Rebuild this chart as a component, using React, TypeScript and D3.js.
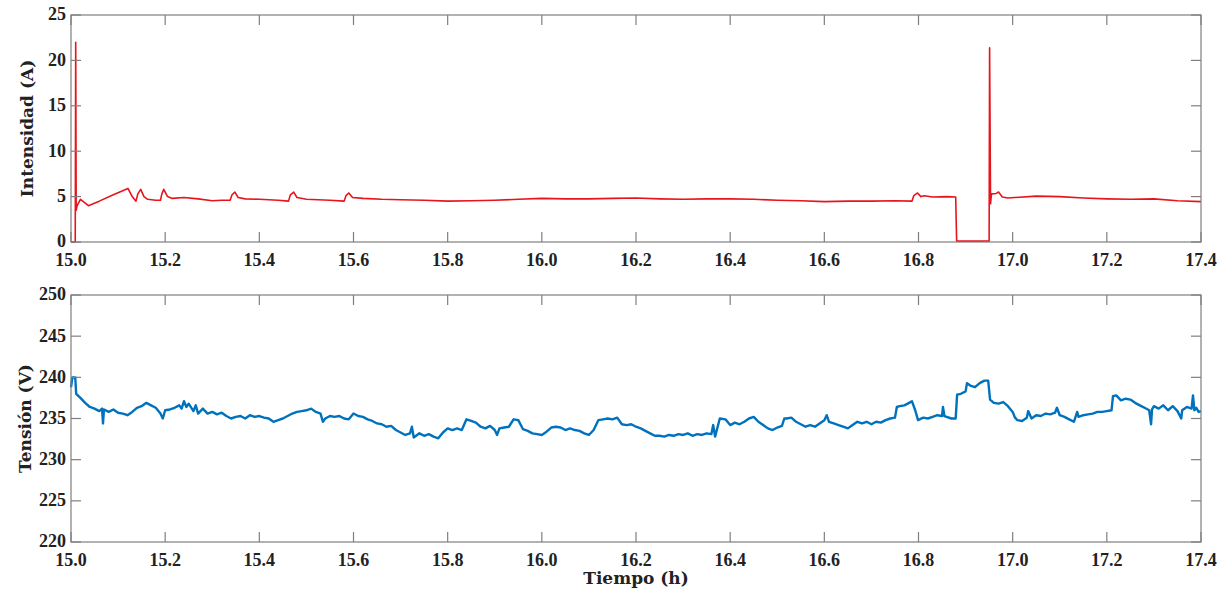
import React from 'react';
import * as d3 from 'd3';

// Intensidad (A) vs tiempo (h)
const currentT = [
  15.000, 15.009, 15.010, 15.011, 15.013, 15.020, 15.025, 15.037, 15.060, 15.090,
  15.121, 15.130, 15.138, 15.142, 15.148, 15.155, 15.163, 15.180, 15.190, 15.193,
  15.197, 15.205, 15.215, 15.240, 15.270, 15.300, 15.320, 15.338, 15.342, 15.348,
  15.355, 15.370, 15.400, 15.440, 15.462, 15.466, 15.473, 15.480, 15.500, 15.550,
  15.580, 15.584, 15.590, 15.598, 15.620, 15.660, 15.700, 15.750, 15.800, 15.850,
  15.900, 15.950, 16.000, 16.050, 16.100, 16.150, 16.200, 16.250, 16.300, 16.350,
  16.400, 16.450, 16.500, 16.550, 16.600, 16.650, 16.700, 16.750, 16.786, 16.790,
  16.798, 16.805, 16.812, 16.830, 16.860, 16.879, 16.881, 16.950, 16.951, 16.953,
  16.955, 16.965, 16.970, 16.978, 16.990, 17.050, 17.100, 17.150, 17.200, 17.250,
  17.300, 17.350, 17.400,
];
const currentA = [
  0, 0, 22.0, 3.5, 4.0, 4.7, 4.5, 4.0, 4.5, 5.2,
  5.9, 5.0, 4.5, 5.3, 5.8, 5.0, 4.7, 4.6, 4.6, 5.3,
  5.8, 5.0, 4.8, 4.9, 4.75, 4.55, 4.6, 4.6, 5.2, 5.5,
  4.9, 4.75, 4.7, 4.6, 4.5, 5.2, 5.5, 4.9, 4.7, 4.6,
  4.5, 5.1, 5.4, 4.9, 4.8, 4.7, 4.65, 4.6, 4.5, 4.55,
  4.6, 4.7, 4.8, 4.75, 4.75, 4.8, 4.85, 4.75, 4.7, 4.75,
  4.75, 4.7, 4.6, 4.55, 4.45, 4.5, 4.5, 4.55, 4.5, 5.1,
  5.4, 5.0, 5.1, 4.95, 5.0, 4.95, 0.1, 0.1, 21.4, 4.2,
  5.3, 5.35, 5.5, 4.95, 4.85, 5.05, 5.0, 4.85, 4.75, 4.7,
  4.75, 4.55, 4.45,
];

// Tensión (V) vs tiempo (h)
const voltageT = [
  15.000, 15.003, 15.009, 15.011, 15.020, 15.030, 15.040, 15.050, 15.060, 15.066,
  15.068, 15.070, 15.080, 15.090, 15.100, 15.110, 15.120, 15.130, 15.140, 15.150,
  15.160, 15.170, 15.180, 15.190, 15.195, 15.200, 15.210, 15.220, 15.230, 15.235,
  15.240, 15.245, 15.250, 15.260, 15.265, 15.270, 15.280, 15.290, 15.300, 15.310,
  15.320, 15.330, 15.340, 15.350, 15.360, 15.370, 15.380, 15.390, 15.400, 15.410,
  15.420, 15.430, 15.440, 15.450, 15.460, 15.470, 15.480, 15.490, 15.500, 15.510,
  15.520, 15.530, 15.535, 15.540, 15.550, 15.560, 15.570, 15.580, 15.590, 15.600,
  15.610, 15.620, 15.630, 15.640, 15.650, 15.660, 15.670, 15.680, 15.690, 15.700,
  15.710, 15.720, 15.724, 15.728, 15.740, 15.750, 15.760, 15.770, 15.780, 15.790,
  15.800, 15.810, 15.820, 15.830, 15.840, 15.850, 15.860, 15.870, 15.880, 15.890,
  15.900, 15.905, 15.910, 15.920, 15.930, 15.940, 15.950, 15.960, 15.970, 15.980,
  15.990, 16.000, 16.010, 16.020, 16.030, 16.040, 16.050, 16.060, 16.070, 16.080,
  16.090, 16.100, 16.110, 16.120, 16.130, 16.140, 16.150, 16.160, 16.170, 16.180,
  16.190, 16.200, 16.210, 16.220, 16.230, 16.240, 16.250, 16.260, 16.270, 16.280,
  16.290, 16.300, 16.310, 16.320, 16.330, 16.340, 16.350, 16.360, 16.364, 16.368,
  16.378, 16.390, 16.400, 16.410, 16.420, 16.430, 16.440, 16.450, 16.460, 16.470,
  16.480, 16.490, 16.500, 16.510, 16.515, 16.520, 16.530, 16.540, 16.550, 16.560,
  16.570, 16.580, 16.590, 16.600, 16.605, 16.610, 16.620, 16.630, 16.640, 16.650,
  16.660, 16.670, 16.680, 16.690, 16.700, 16.710, 16.720, 16.730, 16.740, 16.750,
  16.754, 16.760, 16.770, 16.780, 16.786, 16.793, 16.799, 16.810, 16.820, 16.830,
  16.840, 16.850, 16.852, 16.855, 16.870, 16.879, 16.882, 16.890, 16.900, 16.903,
  16.910, 16.920, 16.930, 16.940, 16.948, 16.952, 16.960, 16.970, 16.980, 16.990,
  17.000, 17.005, 17.010, 17.020, 17.030, 17.033, 17.040, 17.050, 17.060, 17.070,
  17.080, 17.090, 17.094, 17.100, 17.110, 17.120, 17.130, 17.137, 17.140, 17.150,
  17.160, 17.170, 17.180, 17.190, 17.200, 17.210, 17.213, 17.220, 17.230, 17.240,
  17.250, 17.260, 17.270, 17.280, 17.290, 17.294, 17.296, 17.300, 17.310, 17.320,
  17.330, 17.340, 17.350, 17.358, 17.360, 17.370, 17.380, 17.383, 17.386, 17.390,
  17.395, 17.400,
];
const voltageV = [
  238.8, 240.0, 240.0, 238.0, 237.5, 236.9, 236.4, 236.2, 235.9, 236.2,
  234.4, 236.1, 235.8, 236.1, 235.7, 235.6, 235.4, 235.8, 236.3, 236.5,
  236.9, 236.6, 236.3, 235.6, 235.0, 236.0, 236.1, 236.3, 236.6, 236.2,
  237.1, 236.4, 236.8, 235.9, 236.6, 235.6, 236.2, 235.6, 235.8, 235.5,
  235.7, 235.3, 235.0, 235.2, 235.3, 235.0, 235.4, 235.2, 235.3, 235.1,
  235.0, 234.6, 234.8, 235.0, 235.3, 235.6, 235.8, 235.9, 236.0, 236.2,
  235.8, 235.6, 234.6, 235.0, 235.3, 235.2, 235.3, 235.0, 234.9, 235.6,
  235.3, 235.2, 234.9, 234.7, 234.4, 234.3, 234.0, 234.1, 233.6, 233.3,
  233.0, 233.2, 234.0, 232.7, 233.2, 232.9, 233.1, 232.8, 232.6, 233.3,
  233.8, 233.6, 233.8, 233.6, 234.9, 234.7, 234.5, 234.0, 233.8, 234.1,
  233.6, 233.0, 233.8, 233.9, 234.0, 234.9, 234.8, 233.7, 233.5, 233.2,
  233.1, 233.0, 233.4, 233.9, 234.0, 233.9, 233.6, 233.8, 233.6, 233.5,
  233.2, 233.0, 233.6, 234.8, 234.9, 235.0, 234.9, 235.1, 234.3, 234.2,
  234.3, 234.0, 233.8, 233.5, 233.2, 232.9, 232.9, 232.8, 233.0, 232.9,
  233.1, 233.0, 233.2, 232.9, 233.1, 233.0, 233.2, 233.1, 234.2, 232.8,
  235.0, 234.9, 234.2, 234.5, 234.3, 234.6, 235.0, 235.2, 234.6, 234.2,
  233.8, 233.6, 233.9, 234.1, 235.0, 235.0, 235.1, 234.6, 234.3, 234.0,
  234.2, 234.0, 234.4, 234.8, 235.4, 234.6, 234.4, 234.2, 234.0, 233.8,
  234.2, 234.6, 234.4, 234.6, 234.3, 234.6, 234.5, 234.8, 235.0, 235.1,
  236.4, 236.5, 236.6, 236.9, 237.1, 236.0, 234.8, 235.1, 235.0, 235.2,
  235.4, 235.3, 236.4, 235.3, 235.0, 235.0, 237.9, 238.0, 238.3, 239.3,
  239.0, 238.8, 239.3, 239.6, 239.6, 237.3, 236.9, 236.8, 237.0, 236.5,
  235.8, 235.1, 234.8, 234.7, 235.1, 235.9, 235.0, 235.4, 235.3, 235.6,
  235.5, 235.7, 236.3, 235.4, 235.2, 234.9, 234.6, 235.8, 235.2, 235.4,
  235.5, 235.6, 235.8, 235.8, 235.9, 236.0, 237.7, 237.8, 237.2, 237.4,
  237.3, 236.9, 236.6, 236.3, 236.0, 234.3, 236.1, 236.5, 236.2, 236.6,
  236.0, 236.5, 235.9, 235.0, 236.0, 236.4, 236.2, 237.8, 236.0, 236.3,
  235.8, 235.9,
];

const xTicks = d3.range(15.0, 17.41, 0.2);
const currentTicks = [0, 5, 10, 15, 20, 25];
const voltageTicks = [220, 225, 230, 235, 240, 245, 250];

const W = 1228;
const H = 596;
const LEFT = 71;
const RIGHT = 1201;
const TICK = 10;
const FRAME = '#7f7f7f';
const TEXT = '#222';
const TICK_FONT = '"Liberation Serif", serif';
const LABEL_FONT = '"DejaVu Serif", serif';

type PanelProps = {
  top: number;
  bottom: number;
  domain: [number, number];
  yTicks: number[];
  t: number[];
  v: number[];
  color: string;
  width: number;
  label: string;
  labelX: number;
};

const Panel = ({ top, bottom, domain, yTicks, t, v, color, width, label, labelX }: PanelProps) => {
  const x = d3.scaleLinear().domain([15.0, 17.4]).range([LEFT, RIGHT]);
  const y = d3.scaleLinear().domain(domain).range([bottom, top]);
  const line = d3.line<number>().x((_, i) => x(t[i])).y(d => y(d));

  return (
    <g>
      <path d={line(v) ?? ''} fill="none" stroke={color} strokeWidth={width} strokeLinejoin="round" />
      <rect x={LEFT} y={top} width={RIGHT - LEFT} height={bottom - top} fill="none" stroke={FRAME} strokeWidth={1.2} />
      {xTicks.map(d => (
        <g key={`x${d}`}>
          <line x1={x(d)} x2={x(d)} y1={bottom} y2={bottom - TICK} stroke={FRAME} strokeWidth={1.2} />
          <line x1={x(d)} x2={x(d)} y1={top} y2={top + TICK} stroke={FRAME} strokeWidth={1.2} />
          <text x={x(d)} y={bottom + 24} textAnchor="middle" fontFamily={TICK_FONT} fontWeight="bold" fontSize={18} fill={TEXT}>
            {d3.format('.1f')(d)}
          </text>
        </g>
      ))}
      {yTicks.map(d => (
        <g key={`y${d}`}>
          <line x1={LEFT} x2={LEFT + TICK} y1={y(d)} y2={y(d)} stroke={FRAME} strokeWidth={1.2} />
          <line x1={RIGHT} x2={RIGHT - TICK} y1={y(d)} y2={y(d)} stroke={FRAME} strokeWidth={1.2} />
          <text x={LEFT - 5} y={y(d)} dy="0.3em" textAnchor="end" fontFamily={TICK_FONT} fontWeight="bold" fontSize={18} fill={TEXT}>
            {d}
          </text>
        </g>
      ))}
      <text
        transform={`translate(${labelX},${(top + bottom) / 2}) rotate(-90)`}
        textAnchor="middle"
        fontFamily={LABEL_FONT}
        fontWeight="bold"
        fontSize={17}
        fill={TEXT}
      >
        {label}
      </text>
    </g>
  );
};

export default function App() {
  return (
    <div style={{ position: 'absolute', left: 0, top: 0, background: '#fff' }}>
      <svg width={W} height={H} viewBox={`0 0 ${W} ${H}`}>
        <rect width={W} height={H} fill="#fff" />
        <Panel
          top={15}
          bottom={242}
          domain={[0, 25]}
          yTicks={currentTicks}
          t={currentT}
          v={currentA}
          color="#e8141c"
          width={1.6}
          label="Intensidad (A)"
          labelX={33}
        />
        <Panel
          top={295}
          bottom={542}
          domain={[220, 250]}
          yTicks={voltageTicks}
          t={voltageT}
          v={voltageV}
          color="#0072bd"
          width={2.4}
          label="Tensión (V)"
          labelX={31}
        />
        <text x={(LEFT + RIGHT) / 2} y={584} textAnchor="middle" fontFamily={LABEL_FONT} fontWeight="bold" fontSize={17} fill={TEXT}>
          Tiempo (h)
        </text>
      </svg>
    </div>
  );
}
